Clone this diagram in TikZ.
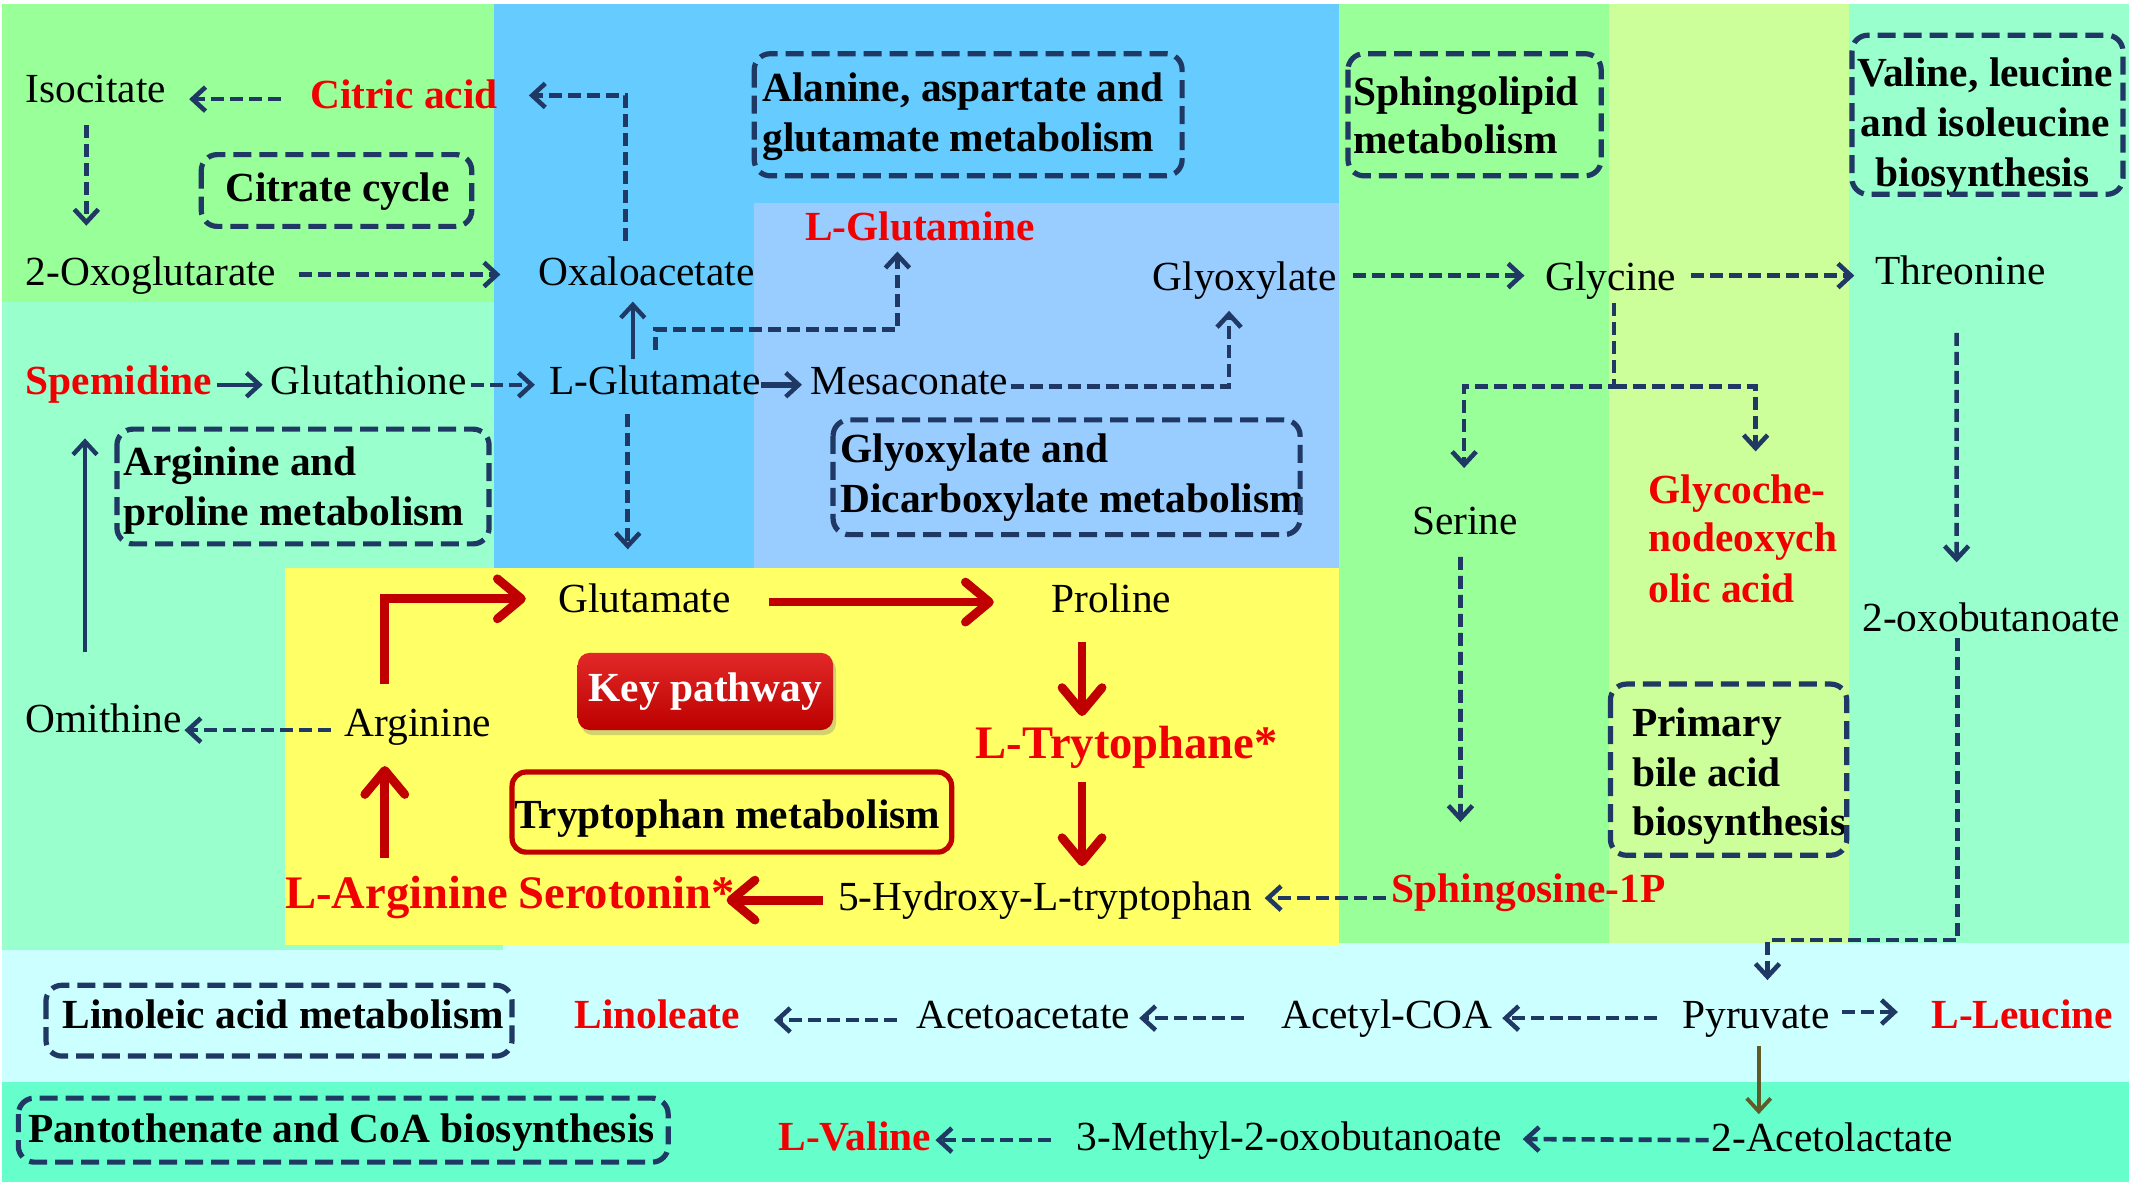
\documentclass[tikz,border=0pt]{standalone}
\usepackage{fontspec}
\setmainfont{Liberation Serif}
\usetikzlibrary{arrows.meta,calc,shadows}
\definecolor{navy}{RGB}{31,56,100}
\definecolor{txtred}{RGB}{240,0,0}
\definecolor{darkred}{RGB}{192,0,0}
\definecolor{arrolive}{RGB}{96,90,40}
\definecolor{bggreen}{RGB}{153,255,153}
\definecolor{bgblue}{RGB}{102,204,255}
\definecolor{bglblue}{RGB}{153,204,255}
\definecolor{bgteal}{RGB}{153,255,204}
\definecolor{bgyellow}{RGB}{255,255,102}
\definecolor{bgygreen}{RGB}{204,255,153}
\definecolor{bgcyan}{RGB}{204,255,255}
\definecolor{bgaqua}{RGB}{102,255,204}
\newcommand\nsz{\fontsize{20.7}{24.5}\selectfont}
\newcommand\lsz{\fontsize{23.3}{27}\selectfont}
\begin{document}
\begin{tikzpicture}[x=0.68pt,y=-0.68pt,
 txt/.style={font=\nsz, inner sep=0pt, anchor=base west},
 txtb/.style={txt, font=\nsz\bfseries},
 txtr/.style={txt, font=\nsz\bfseries, text=txtred},
 txtk/.style={txt, font=\lsz\bfseries, text=txtred},
 darr/.style={draw=navy, line width=2.3pt, dash pattern=on 6.5pt off 3pt, -{Straight Barb[length=6.5pt,width=12pt,line width=2.3pt]}},
 sarr/.style={draw=navy, line width=2.2pt, -{Straight Barb[length=6.5pt,width=12pt,line width=2.2pt]}},
 oarr/.style={draw=arrolive, line width=1.9pt, -{Straight Barb[length=6.5pt,width=12pt,line width=1.9pt]}},
 rarr/.style={draw=darkred, line width=4.4pt, -{Straight Barb[length=12pt,width=20pt,line width=4.4pt,round]}},
 pbox/.style={draw=navy, line width=2.6pt, dash pattern=on 9pt off 4pt, rounded corners=8pt},
 keybox/.style={rounded corners=6pt, top color={rgb,255:red,226;green,40;blue,40}, bottom color={rgb,255:red,188;green,0;blue,0}, text=white, font=\nsz\bfseries, minimum width=127.7pt, minimum height=38.6pt, inner sep=0pt, drop shadow={shadow xshift=1.5pt, shadow yshift=-2.5pt, opacity=0.35}},
]
\useasboundingbox (0,0) rectangle (1568,873);
% backgrounds
\fill[white] (0,0) rectangle (1568,873);
\fill[bgcyan] (1.5,690) rectangle (1566,796);
\fill[bgaqua] (1.5,795.8) rectangle (1566,869.4);
\fill[bggreen] (1.5,2.7) rectangle (363,222);
\fill[bgteal] (1.5,222) rectangle (370,698.7);
\fill[bgblue] (363,2.7) rectangle (985,417.7);
\fill[bglblue] (554.7,149.6) rectangle (985,417.7);
\fill[bgyellow] (209.4,417.7) rectangle (985,695);
\fill[bggreen] (985,2.7) rectangle (1183,693.7);
\fill[bgygreen] (1183,2.7) rectangle (1360,693.7);
\fill[bgteal] (1360,2.7) rectangle (1566,693.7);

% texts
\node[txt] (iso) at (18.6,75.6) {Isocitate};
\node[txtr] (cit) at (228,79.5) {Citric acid};
\node[txtb] (cc) at (165.5,148.3) {Citrate cycle};
\node[txt] (oxo) at (18.6,210) {2-Oxoglutarate};
\node[txt] (oxa) at (395.8,210) {Oxaloacetate};
\node[txtb] (ala1) at (560.4,74.8) {Alanine, aspartate and};
\node[txtb] (ala2) at (560.4,111.6) {glutamate metabolism};
\node[txtr] (lgln) at (591.8,176.9) {L-Glutamine};
\node[txt] (glx) at (847.5,213.6) {Glyoxylate};
\node[txtb] (sph1) at (995,77.5) {Sphingolipid};
\node[txtb] (sph2) at (995,112.9) {metabolism};
\node[txtb,anchor=base] (val1) at (1460,63.9) {Valine, leucine};
\node[txtb,anchor=base] (val2) at (1460,100.7) {and isoleucine};
\node[txtb,anchor=base] (val3) at (1458,137.5) {biosynthesis};
\node[txt] (gly) at (1136.2,213.6) {Glycine};
\node[txt] (thr) at (1378.9,209.5) {Threonine};
\node[txtr] (spem) at (18.6,289.8) {Spemidine};
\node[txt] (gsh) at (199,289.8) {Glutathione};
\node[txt] (lglu) at (403.6,289.8) {L-Glutamate};
\node[txt] (mes) at (595.9,289.8) {Mesaconate};
\node[txtb] (arp1) at (90.5,349.7) {Arginine and};
\node[txtb] (arp2) at (90.5,386.4) {proline metabolism};
\node[txtb] (gdm1) at (617.8,340.1) {Glyoxylate and};
\node[txtb] (gdm2) at (617.8,376.9) {Dicarboxylate metabolism};
\node[txt] (ser) at (1038.4,393.2) {Serine};
\node[txtr] (gcd1) at (1212.2,370) {Glycoche-};
\node[txtr] (gcd2) at (1212.2,405.4) {nodeoxych};
\node[txtr] (gcd3) at (1212.2,442.8) {olic acid};
\node[txt] (oxb) at (1369.5,464.3) {2-oxobutanoate};
\node[txt] (glu) at (410.3,450.1) {Glutamate};
\node[txt] (pro) at (773.2,450.1) {Proline};
\node[keybox] (key) at (518.8,508.55) {Key pathway};
\node[txtk] (trp) at (717.4,557.5) {L-Trytophane*};
\node[txt] (omi) at (18.6,539) {Omithine};
\node[txt] (arg) at (253.3,541.3) {Arginine};
\node[txtb] (pri1) at (1200.2,541.3) {Primary};
\node[txtb] (pri2) at (1200.2,578.1) {bile acid};
\node[txtb] (pri3) at (1200.2,614.3) {biosynthesis};
\node[txtb] (trm) at (378,609) {Tryptophan metabolism};
\node[txtk] (larg) at (209.4,667.9) {L-Arginine};
\node[txtk] (sero) at (381,667.9) {Serotonin*};
\node[txt] (hyd) at (616.1,669.3) {5-Hydroxy-L-tryptophan};
\node[txtr] (s1p) at (1023.3,663.4) {Sphingosine-1P};
\node[txtb] (lam) at (45.6,756.1) {Linoleic acid metabolism};
\node[txtr] (lin) at (422.2,756.1) {Linoleate};
\node[txt] (aca) at (673.5,756.1) {Acetoacetate};
\node[txt] (acc) at (942,756.1) {Acetyl-COA};
\node[txt] (pyr) at (1237,756.1) {Pyruvate};
\node[txtr] (leu) at (1420.3,756.1) {L-Leucine};
\node[txtb] (pan) at (20.3,840) {Pantothenate and CoA biosynthesis};
\node[txtr] (lval) at (572.2,845.9) {L-Valine};
\node[txt] (mob) at (791.7,845.9) {3-Methyl-2-oxobutanoate};
\node[txt] (acl) at (1258.5,846.7) {2-Acetolactate};

% pathway boxes
\draw[pbox] (148,113.7) rectangle (347,166.5);
\draw[pbox] (554.7,39.5) rectangle (869.4,129.3);
\draw[pbox] (991.4,39.5) rectangle (1177.6,129.3);
\draw[pbox] (1362,25.9) rectangle (1561.3,142.9);
\draw[pbox] (86,315.6) rectangle (359.7,400);
\draw[pbox] (612.7,308.8) rectangle (956.2,393.2);
\draw[pbox] (1184.4,503.1) rectangle (1358.2,629);
\draw[pbox] (33.8,724.6) rectangle (376.6,776.7);
\draw[pbox] (13.5,807.6) rectangle (491.4,854.7);
\draw[darkred, line width=2.6pt, rounded corners=7pt] (376.6,567.8) rectangle (699.9,626.7);

% connectors
\draw[darr] ($(cit.base west)+(-21.3,-6.6)$) -- ($(iso.base east)+(16.8,-2.7)$);
\draw[darr] ($(iso.base west)+(44.9,16.4)$) -- ($(oxo.base west)+(44.9,-44)$);
\draw[darr] ($(oxo.base east)+(16.6,-8.1)$) -- ($(oxa.base west)+(-27.8,-8.1)$);
\draw[darr] ($(oxa.base west)+(64.2,-33.1)$) |- ($(cit.base east)+(22.6,-9.3)$);
\draw[sarr] ($(spem.base east)+(3.1,-6.8)$) -- ($(gsh.base west)+(-5.8,-6.8)$);
\draw[darr] ($(gsh.base east)+(3.3,-6.8)$) -- ($(lglu.base west)+(-10.2,-6.8)$);
\draw[sarr] ($(lglu.base west)+(61.8,-25.8)$) -- ($(oxa.base west)+(69.6,11.8)$);
\draw[darr] ($(lglu.base west)+(78.4,-32.7)$) -- ++(0,-14.9) -| ($(lgln.base west)+(68.2,8.1)$);
\draw[darr] ($(lglu.base west)+(58.1,15)$) -- ($(glu.base west)+(51.4,-46.1)$);
\draw[sarr, line width=3pt] ($(lglu.base east)+(0,-6.8)$) -- ($(mes.base west)+(-6.1,-6.8)$);
\draw[darr] ($(mes.base east)+(1.5,-5.5)$) -| ($(glx.base west)+(56.4,15)$);
\draw[darr] ($(glx.base east)+(12,-10.9)$) -- ($(gly.base west)+(-15,-10.9)$);
\draw[darr] ($(gly.base east)+(10.8,-10.9)$) -- ($(thr.base west)+(-15.1,-6.8)$);
\draw[darr] ($(gly.base west)+(50.8,9.5)$) -- ++(0,61.3) coordinate (fork) -| ($(ser.base west)+(38.4,-49)$);
\draw[darr] (fork) -| ($(gcd1.base west)+(79,-38)$);
\draw[darr] ($(thr.base west)+(60.1,35.4)$) -- ($(oxb.base west)+(69.5,-50.7)$);
\draw[darr] ($(oxb.base west)+(70.3,5)$) -- ++(0,222.1) -| ($(pyr.base west)+(62.9,-35.3)$);
\draw[darr] ($(ser.base west)+(35.7,16.3)$) -- ($(s1p.base west)+(50.8,-58.8)$);
\draw[darr] ($(s1p.base west)+(-3.7,-2.9)$) -- ($(hyd.base east)+(9.1,-8.8)$);
\draw[rarr] ($(hyd.base west)+(-10.8,-7.3)$) -- ($(sero.base east)+(-6.5,-5.9)$);
\draw[rarr] ($(glu.base east)+(27.7,-7.3)$) -- ($(pro.base west)+(-42.3,-7.3)$);
\draw[rarr] ($(pro.base west)+(22.6,22.1)$) -- ($(trp.base west)+(78.4,-30.9)$);
\draw[rarr] ($(trp.base west)+(78.4,17.7)$) -- ($(hyd.base west)+(179.7,-32.3)$);
\draw[rarr] ($(arg.base west)+(29.7,-38.2)$) |- ($(glu.base west)+(-23.6,-9.7)$);
\draw[darr] ($(arg.base west)+(-10.1,-4.3)$) -- ($(omi.base east)+(1.5,-2)$);
\draw[sarr, line width=1.6pt] ($(omi.base west)+(43.9,-59.4)$) -- ($(spem.base west)+(43.9,32.6)$);
\draw[rarr] ($(larg.base west)+(73.6,-36.8)$) -- ($(arg.base west)+(29.7,22.1)$);
\draw[darr] ($(aca.base west)+(-13.5,-5.9)$) -- ($(lin.base east)+(24.6,-5.9)$);
\draw[darr] ($(acc.base west)+(-27,-7.3)$) -- ($(aca.base east)+(6.6,-7.3)$);
\draw[darr] ($(pyr.base west)+(-18,-7.3)$) -- ($(acc.base east)+(6.7,-7.3)$);
\draw[darr] ($(pyr.base east)+(9.2,-11.8)$) -- ($(leu.base west)+(-24.5,-11.8)$);
\draw[oarr] ($(pyr.base west)+(56.5,13.3)$) -- ($(acl.base west)+(35,-27.3)$);
\draw[darr] ($(acl.base west)+(-1.9,-8.2)$) -- ($(mob.base east)+(14.8,-8.2)$);
\draw[darr] ($(mob.base west)+(-18.5,-7.4)$) -- ($(lval.base east)+(3,-7.4)$);
\end{tikzpicture}
\end{document}
